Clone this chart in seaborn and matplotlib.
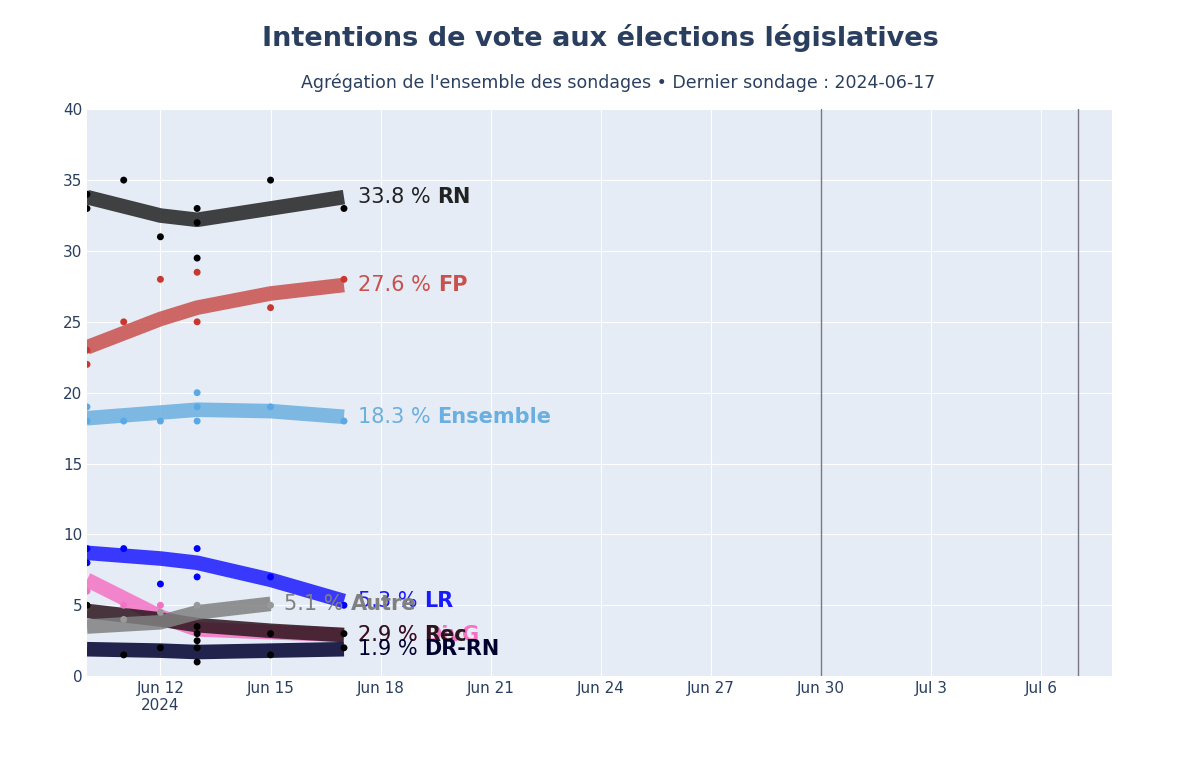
import pandas as pd
import seaborn as sns
import matplotlib.pyplot as plt

# courbes lissées (tendance) par parti
trend_dates = ['2024-06-10', '2024-06-12', '2024-06-13', '2024-06-15', '2024-06-17']
rn_trend = [33.8, 32.5, 32.2, 33.0, 33.8]
fp_trend = [23.2, 25.2, 26.0, 27.0, 27.6]
ens_trend = [18.2, 18.6, 18.8, 18.7, 18.3]
lr_trend = [8.7, 8.3, 8.0, 6.8, 5.3]
divg_trend = [6.8, 4.2, 3.3, 3.1, 2.9]
rec_trend = [4.6, 4.0, 3.6, 3.2, 2.9]
drrn_trend = [1.9, 1.8, 1.7, 1.8, 1.9]
autre_dates = ['2024-06-10', '2024-06-12', '2024-06-13', '2024-06-15']
autre_trend = [3.5, 3.8, 4.5, 5.1]

# sondages individuels
rn_pts = [('2024-06-10', 33), ('2024-06-10', 34), ('2024-06-11', 35), ('2024-06-12', 31),
          ('2024-06-13', 33), ('2024-06-13', 32), ('2024-06-13', 29.5), ('2024-06-15', 35), ('2024-06-17', 33)]
fp_pts = [('2024-06-10', 22), ('2024-06-10', 23), ('2024-06-11', 25), ('2024-06-12', 28),
          ('2024-06-13', 28.5), ('2024-06-13', 25), ('2024-06-15', 26), ('2024-06-17', 28)]
ens_pts = [('2024-06-10', 19), ('2024-06-10', 18), ('2024-06-11', 18), ('2024-06-12', 18),
           ('2024-06-13', 20), ('2024-06-13', 19), ('2024-06-13', 18), ('2024-06-15', 19), ('2024-06-17', 18)]
lr_pts = [('2024-06-10', 9), ('2024-06-10', 8), ('2024-06-11', 9), ('2024-06-12', 6.5),
          ('2024-06-13', 9), ('2024-06-13', 7), ('2024-06-15', 7), ('2024-06-17', 5)]
divg_pts = [('2024-06-10', 6), ('2024-06-11', 5), ('2024-06-12', 5)]
autre_pts = [('2024-06-11', 4), ('2024-06-12', 4.5), ('2024-06-13', 5), ('2024-06-15', 5)]
rec_pts = [('2024-06-10', 5), ('2024-06-13', 3.5), ('2024-06-13', 3), ('2024-06-13', 2.5),
           ('2024-06-15', 3), ('2024-06-17', 3)]
drrn_pts = [('2024-06-11', 1.5), ('2024-06-12', 2), ('2024-06-13', 1), ('2024-06-13', 2),
            ('2024-06-15', 1.5), ('2024-06-17', 2)]

partis = ['RN', 'FP', 'Ensemble', 'LR', 'DivG', 'Rec', 'DR-RN', 'Autre']
line_colors = ['#222222', '#c9504c', '#6aafdf', '#1a1aff', '#f472c4', '#2b141c', '#00002e', '#808080']
dot_colors = ['black', '#c9382f', '#5aa9e6', 'blue', '#f472c4', 'black', 'black', '#999999']
trends = [rn_trend, fp_trend, ens_trend, lr_trend, divg_trend, rec_trend, drrn_trend, autre_trend]
points = [rn_pts, fp_pts, ens_pts, lr_pts, divg_pts, rec_pts, drrn_pts, autre_pts]
labels = ['33.8 %', '27.6 %', '18.3 %', '5.3 %', '2.9 %', '2.9 %', '1.9 %', '5.1 %']

sns.set_style('darkgrid', {'axes.facecolor': '#e5ecf6', 'grid.color': 'white'})
plt.rcParams['font.family'] = ['DejaVu Sans']
fig = plt.figure(figsize=(12, 7.64), dpi=100)
ax = fig.add_axes([0.0725, 0.115, 0.854, 0.742])

for i, p in enumerate(partis):
    dates = autre_dates if p == 'Autre' else trend_dates
    df = pd.DataFrame({'date': pd.to_datetime(dates), 'v': trends[i]})
    sns.lineplot(data=df, x='date', y='v', ax=ax, color=line_colors[i], lw=10.5, alpha=0.85,
                 solid_capstyle='butt')
    pts = pd.DataFrame(points[i], columns=['date', 'v'])
    pts['date'] = pd.to_datetime(pts['date'])
    sns.scatterplot(data=pts, x='date', y='v', ax=ax, color=dot_colors[i], s=25, edgecolor='none', zorder=5)

ax.set_xlim(pd.Timestamp('2024-06-10'), pd.Timestamp('2024-07-07 22:00'))
ax.set_ylim(0, 40)

# étiquettes : valeur en normal puis nom du parti en gras juste après
fig.canvas.draw()
renderer = fig.canvas.get_renderer()
for i, p in enumerate(partis):
    dates = autre_dates if p == 'Autre' else trend_dates
    x, y = pd.Timestamp(dates[-1]), trends[i][-1]
    t = ax.annotate(labels[i], (x, y), xytext=(10, 0), textcoords='offset points',
                    va='center', fontsize=15, color=line_colors[i], zorder=6)
    w = t.get_window_extent(renderer).width * 72 / fig.dpi
    ax.annotate(p, (x, y), xytext=(10 + w + 5, 0), textcoords='offset points', va='center',
                fontsize=15, fontweight='bold', color=line_colors[i], zorder=6)

for d in ['2024-06-30', '2024-07-07']:
    ax.axvline(pd.Timestamp(d), color='#777788', lw=1)

ax.set_yticks(range(0, 41, 5))
ticks = pd.date_range('2024-06-12', '2024-07-06', freq='3D')
ax.set_xticks(ticks)
ax.set_xticklabels(['Jun 12\n2024'] + [t.strftime('%b %-d') for t in ticks[1:]])
ax.tick_params(labelsize=11, colors='#2a3f5f', length=0)
ax.set_xlabel('')
ax.set_ylabel('')
for s in ax.spines.values():
    s.set_visible(False)

fig.text(0.5, 0.94, 'Intentions de vote aux élections législatives', ha='center',
         fontsize=19.5, fontweight='bold', color='#2a3f5f')
fig.text(0.515, 0.885, "Agrégation de l'ensemble des sondages • Dernier sondage : 2024-06-17",
         ha='center', fontsize=12.5, color='#2a3f5f')
fig.savefig('out.png', dpi=100)
